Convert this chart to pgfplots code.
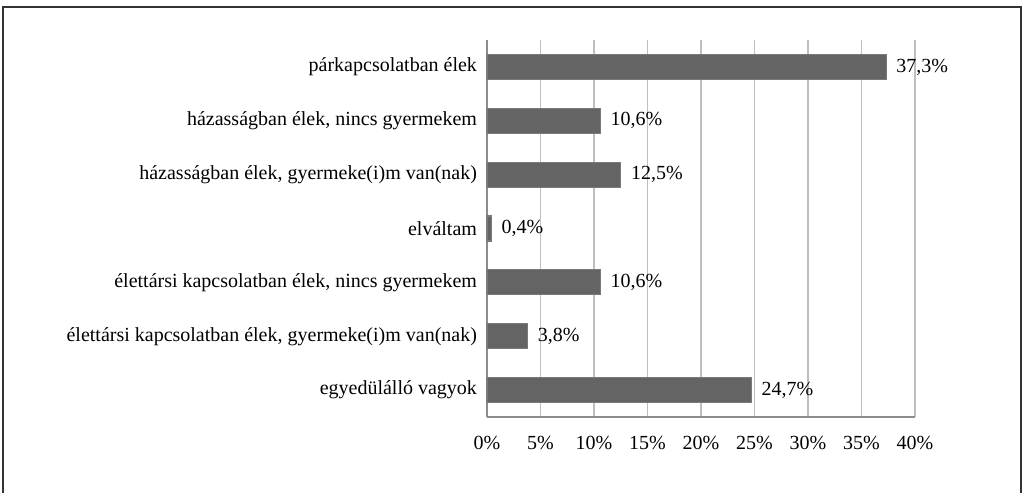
\documentclass[border=0pt]{standalone}
\usepackage{pgfplots}
\pgfplotsset{compat=1.18}
\usepackage{fontspec}
\setmainfont{Liberation Serif}
\definecolor{barfill}{HTML}{646464}
\definecolor{barline}{HTML}{7A7A7A}
\definecolor{gridc}{HTML}{BFBFBF}
\definecolor{axisc}{HTML}{8C8C8C}
\begin{document}
\begin{tikzpicture}
\useasboundingbox (0,0) rectangle (768pt,369.75pt);
\draw[black!80, line width=0.9pt] (2.25pt,0pt) -- (2.25pt,364.5pt) -- (765.75pt,364.5pt) -- (765.75pt,0pt);
\begin{axis}[
  at={(365.25pt,57pt)}, anchor=south west,
  scale only axis, width=321pt, height=282.75pt,
  xbar, bar width=18.75pt,
  xmin=0, xmax=40, ymin=-0.5, ymax=6.5,
  xtick={0,5,...,40},
  xticklabel={\pgfmathprintnumber{\tick}\%},
  ytick={0,...,6},
  yticklabels={{egyedülálló vagyok},
    {élettársi kapcsolatban élek, gyermeke(i)m van(nak)},
    {élettársi kapcsolatban élek, nincs gyermekem},
    {elváltam},
    {házasságban élek, gyermeke(i)m van(nak)},
    {házasságban élek, nincs gyermekem},
    {párkapcsolatban élek}},
  axis x line*=bottom, axis y line*=left,
  axis line style={axisc, line width=1.2pt, -},
  xmajorgrids, grid style={gridc, line width=0.8pt},
  major tick length=0pt,
  tick style={draw=none},
  /pgf/number format/assume math mode=true,
  ticklabel style={font=\fontsize{15}{18}\selectfont, text=black},
  xticklabel style={yshift=-10.5pt},
  yticklabel style={xshift=-4pt},
  nodes near coords={\pgfmathprintnumber[fixed,fixed zerofill,precision=1,use comma,assume math mode=true]{\pgfplotspointmeta}\%},
  nodes near coords style={font=\fontsize{15}{18}\selectfont, text=black, anchor=west, xshift=4pt},
  point meta=explicit,
  clip=false,
]
\addplot[fill=barfill, draw=barline, line width=0.8pt] coordinates {
  (24.7,0) [24.7]
  (3.8,1) [3.8]
  (10.6,2) [10.6]
  (0.4,3) [0.4]
  (12.5,4) [12.5]
  (10.6,5) [10.6]
  (37.3,6) [37.3]
};
\end{axis}
\end{tikzpicture}
\end{document}
